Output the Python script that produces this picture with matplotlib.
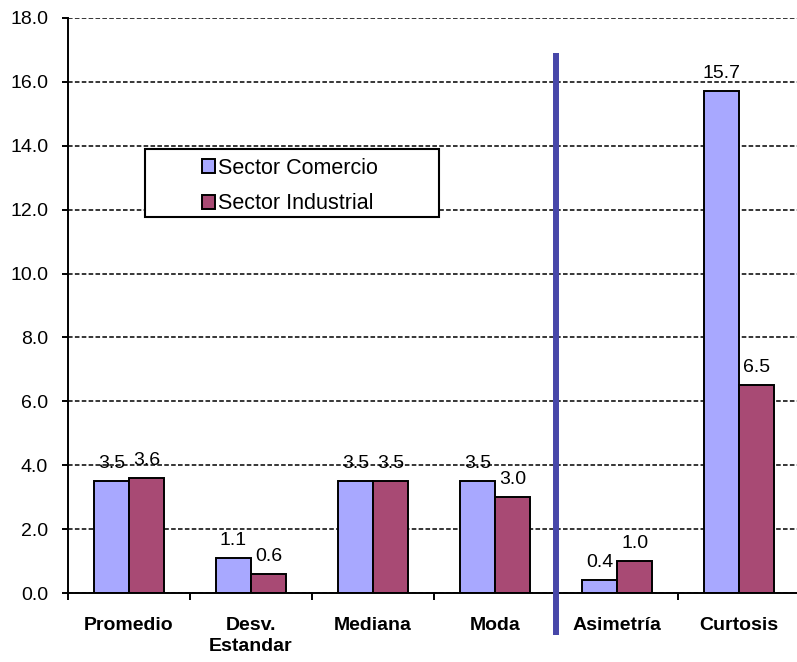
import matplotlib
matplotlib.use("Agg")
import matplotlib.pyplot as plt
import numpy as np
from matplotlib.patches import Rectangle

plt.rcParams['font.family'] = ['Liberation Sans', 'DejaVu Sans']

# data
categories = ['Promedio', 'Desv.\nEstandar', 'Mediana', 'Moda', 'Asimetría', 'Curtosis']
comercio = [3.5, 1.1, 3.5, 3.5, 0.4, 15.7]
industrial = [3.6, 0.6, 3.5, 3.0, 1.0, 6.5]
series_names = ['Sector Comercio', 'Sector Industrial']
y_ticks = [0, 2, 4, 6, 8, 10, 12, 14, 16, 18]

# separator between descriptive and shape statistics
divider_x = 3.5
divider_y = (-1.31, 16.9)

blue = '#A8A8FF'
red = '#A84A74'

fig = plt.figure(figsize=(7.97, 6.62), dpi=100)
ax = fig.add_axes([68 / 797, 1 - 593 / 662, 732 / 797, 575 / 662])

x = np.arange(len(categories))
w = 0.288
ax.bar(x - w / 2, comercio, w, color=blue, edgecolor='black', linewidth=1.4, zorder=3,
       label=series_names[0])
ax.bar(x + w / 2, industrial, w, color=red, edgecolor='black', linewidth=1.4, zorder=3,
       label=series_names[1])

# value labels
for xi, v in zip(x - w / 2, comercio):
    ax.annotate(f'{v:.1f}', (xi, v), xytext=(0, 9.5), textcoords='offset points',
                ha='center', va='baseline', fontsize=14, zorder=4)
for xi, v in zip(x + w / 2, industrial):
    ax.annotate(f'{v:.1f}', (xi, v), xytext=(0, 9.5), textcoords='offset points',
                ha='center', va='baseline', fontsize=14, zorder=4)

ax.set_xlim(-0.5, 5.5)
ax.set_ylim(0, 18)
ax.set_yticks(y_ticks)
ax.set_yticklabels([f'{t:.1f}' for t in y_ticks], fontsize=14)
ax.tick_params(axis='y', direction='out', length=4.3, width=1.4, pad=10)

ax.set_xticks(x)
ax.set_xticklabels(categories, fontsize=14, fontweight='bold', linespacing=1.35)
ax.set_xticks(np.arange(-0.5, 6, 1), minor=True)
ax.tick_params(axis='x', which='major', length=0, pad=17)
ax.tick_params(axis='x', which='minor', direction='out', length=5, width=1.4)

# dashed gridlines
ax.grid(axis='y', color='black', linestyle=(0, (3, 1.5)), linewidth=1.1, zorder=1)
ax.set_axisbelow(True)
for s in ['top', 'right']:
    ax.spines[s].set_visible(False)
for s in ['left', 'bottom']:
    ax.spines[s].set_linewidth(1.4)
    ax.spines[s].set_zorder(5)

# vertical blue divider
ax.plot([divider_x, divider_x], divider_y, color='#4747A9', linewidth=4.3,
        clip_on=False, zorder=6, solid_capstyle='butt')

# legend box (drawn by hand to get Excel-like padding)
ax.add_patch(Rectangle((0.105, 0.654), 0.402, 0.118, transform=ax.transAxes,
                       facecolor='white', edgecolor='black', linewidth=1.5, zorder=7))
leg = ax.legend(loc='center left', bbox_to_anchor=((202 - 68) / 732, (593 - 186) / 575),
                frameon=False, fontsize=15.5, borderpad=0, borderaxespad=0,
                handlelength=0.6, handleheight=0.6, handletextpad=0.15, labelspacing=0.68)
leg.set_zorder(8)

fig.savefig('out.png', dpi=100)
